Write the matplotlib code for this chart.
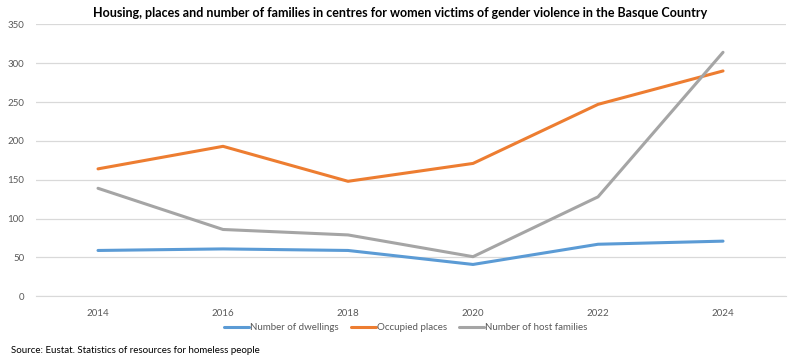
import matplotlib
matplotlib.use("Agg")
import matplotlib.pyplot as plt

years = ["2014", "2016", "2018", "2020", "2022", "2024"]
dwellings = [59, 61, 59, 41, 67, 71]
occupied = [164, 193, 148, 171, 247, 290]
families = [139, 86, 79, 51, 128, 314]
yticks = [0, 50, 100, 150, 200, 250, 300, 350]

plt.rcParams['font.family'] = ['Lato', 'DejaVu Sans']

fig = plt.figure(figsize=(8, 3.63), dpi=100)
ax = fig.add_axes([0.0444, 0.1837, 0.9375, 0.7493])

x = range(len(years))
ax.plot(x, dwellings, color="#5B9BD5", lw=2.2, label="Number of dwellings", solid_capstyle="round")
ax.plot(x, occupied, color="#ED7D31", lw=2.2, label="Occupied places", solid_capstyle="round")
ax.plot(x, families, color="#A5A5A5", lw=2.2, label="Number of host families", solid_capstyle="round")

ax.set_xlim(-0.5, len(years) - 0.5)
ax.set_ylim(0, 350)
ax.set_yticks(yticks)
ax.set_xticks(list(x))
ax.set_xticklabels(years)
ax.grid(axis="y", color="#D9D9D9", lw=0.9)
ax.set_axisbelow(True)
for s in ["top", "right", "left"]:
    ax.spines[s].set_visible(False)
ax.spines["bottom"].set_color("#D9D9D9")
ax.tick_params(axis="both", length=0, labelsize=7, colors="#595959", pad=8)
ax.tick_params(axis="x", pad=9)

fig.text(0.5, 0.965, "Housing, places and number of families in centres for women victims of gender violence in the Basque Country",
         ha="center", va="center", fontsize=9.0, fontweight="bold", color="black")

leg = fig.legend(loc="center", bbox_to_anchor=(0.507, 0.097), ncol=3, frameon=False,
                 fontsize=7, handlelength=2.6, handletextpad=0.1, columnspacing=1.2)
for t in leg.get_texts():
    t.set_color("#595959")

fig.text(0.014, 0.035, "Source: Eustat. Statistics of resources for homeless people",
         ha="left", va="center", fontsize=7, color="black")

fig.savefig("out.png", dpi=100)
